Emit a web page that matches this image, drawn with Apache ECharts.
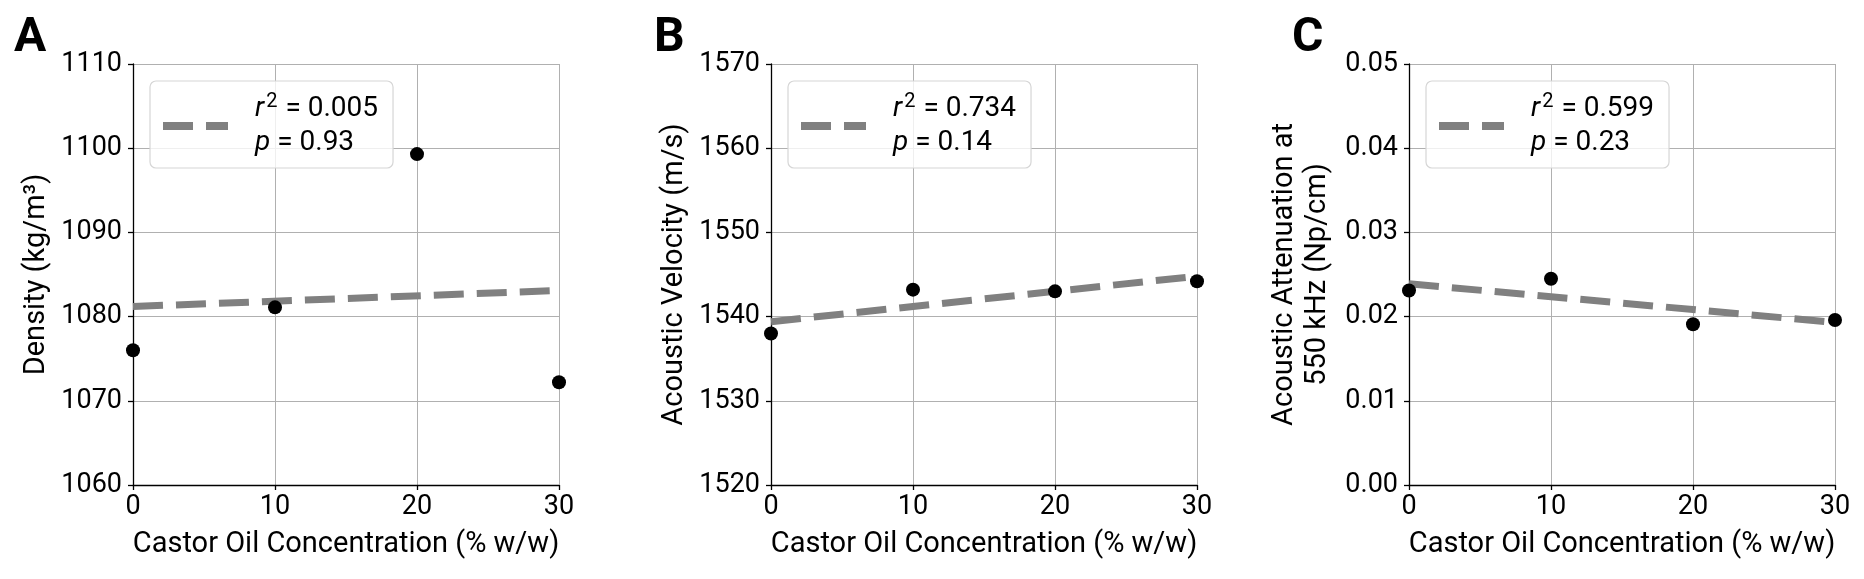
<!DOCTYPE html>
<html>
<head>
<meta charset="utf-8">
<script src="https://cdn.jsdelivr.net/npm/echarts@6/dist/echarts.min.js"></script>
<style>
html,body{margin:0;padding:0;background:#fff;}
#chart{width:1864px;height:579px;}
</style>
</head>
<body>
<div id="chart"></div>
<script>
// ---- data ----
const xVals = [0, 10, 20, 30];
const densityVals = [1076.0, 1081.1, 1099.3, 1072.2];
const velocityVals = [1538.0, 1543.2, 1543.0, 1544.2];
const attenVals = [0.0231, 0.0245, 0.0191, 0.0196];
const fitX = [0, 30];
const densityFit = [1081.2, 1083.1];
const velocityFit = [1539.4, 1544.8];
const attenFit = [0.0239, 0.0193];
const r2Labels = ['0.005', '0.734', '0.599'];
const pLabels = ['0.93', '0.14', '0.23'];
const panelLetters = ['A', 'B', 'C'];
const yNames = ['Density (kg/m³)', 'Acoustic Velocity (m/s)', 'Acoustic Attenuation at\n550 kHz (Np/cm)'];
const xName = 'Castor Oil Concentration (% w/w)';
const yMins = [1060, 1520, 0];
const yMaxs = [1110, 1570, 0.05];
const yIntervals = [10, 10, 0.01];
const yDecimals = [0, 0, 2];

const FONT = 'Roboto';
const gridLefts = [133, 771, 1409];
const gridTop = 64, gridW = 426, gridH = 421;
const yNameGaps = [80, 80, 75];

const values = [densityVals, velocityVals, attenVals];
const fits = [densityFit, velocityFit, attenFit];

const grids = [], xAxes = [], yAxes = [], series = [], legends = [], graphics = [];
for (let i = 0; i < 3; i++) {
  grids.push({left: gridLefts[i], top: gridTop, width: gridW, height: gridH, containLabel: false});
  xAxes.push({
    gridIndex: i, type: 'value', min: 0, max: 30, interval: 10,
    name: xName, nameLocation: 'middle', nameGap: 45,
    nameTextStyle: {fontFamily: FONT, fontSize: 29, color: '#000'},
    axisLine: {show: true, onZero: false, lineStyle: {color: '#000', width: 1.3}},
    axisTick: {show: true, length: 5, lineStyle: {color: '#000', width: 1.3}},
    axisLabel: {fontFamily: FONT, fontSize: 27, color: '#000', margin: 9},
    splitLine: {show: true, lineStyle: {color: '#b0b0b0', width: 1}}
  });
  const dec = yDecimals[i];
  yAxes.push({
    gridIndex: i, type: 'value', min: yMins[i], max: yMaxs[i], interval: yIntervals[i],
    name: yNames[i], nameLocation: 'middle', nameGap: yNameGaps[i], nameRotate: 90,
    nameTextStyle: {fontFamily: FONT, fontSize: 29, color: '#000', lineHeight: 33},
    axisLine: {show: true, onZero: false, lineStyle: {color: '#000', width: 1.3}},
    axisTick: {show: true, length: 5, lineStyle: {color: '#000', width: 1.3}},
    axisLabel: {fontFamily: FONT, fontSize: 27, color: '#000', margin: 11,
      formatter: v => v.toFixed(dec)},
    splitLine: {show: true, lineStyle: {color: '#b0b0b0', width: 1}}
  });
  const fitName = 'fit' + panelLetters[i];
  series.push({
    name: fitName, type: 'line', xAxisIndex: i, yAxisIndex: i,
    data: fitX.map((x, k) => [x, fits[i][k]]),
    showSymbol: false, symbol: 'none', z: 2, silent: true,
    lineStyle: {color: '#808080', width: 7, type: [30, 13], cap: 'butt'},
    itemStyle: {color: '#808080'}
  });
  series.push({
    name: 'data' + panelLetters[i], type: 'scatter', xAxisIndex: i, yAxisIndex: i,
    data: xVals.map((x, k) => [x, values[i][k]]),
    symbol: 'circle', symbolSize: 14, clip: false, z: 5,
    itemStyle: {color: '#000', opacity: 1}
  });
  const r2 = r2Labels[i], p = pLabels[i];
  legends.push({
    data: [fitName], left: gridLefts[i] + 17, top: 81,
    orient: 'vertical', selectedMode: false,
    padding: [11, 15, 8, 13],
    backgroundColor: 'rgba(255,255,255,0.8)', borderColor: '#d6d6d6', borderWidth: 1.2, borderRadius: 6,
    icon: 'path://M0,0H30V8H0Z M43,0H65V8H43Z', itemWidth: 65, itemHeight: 8,
    itemStyle: {color: '#808080', borderWidth: 0},
    lineStyle: {width: 0},
    formatter: () => '{it|r}{sup|2}{n| = ' + r2 + '}\n{it|p}{n| = ' + p + '}',
    textStyle: {
      fontFamily: FONT, fontSize: 28, color: '#000', lineHeight: 34,
      rich: {
        it: {fontFamily: FONT, fontSize: 28, fontStyle: 'italic', color: '#000', lineHeight: 34, padding: [0, 0, 0, 22]},
        sup: {fontFamily: FONT, fontSize: 20, color: '#000', verticalAlign: 'top', lineHeight: 20, padding: [0, 1, 0, 2]},
        n: {fontFamily: FONT, fontSize: 28, color: '#000', lineHeight: 34}
      }
    }
  });
  graphics.push({
    type: 'text', left: [14, 654, 1292][i], top: 15,
    style: {text: panelLetters[i], fontFamily: FONT, fontWeight: 'bold', fontSize: 48, fill: '#000'}
  });
}

const chart = echarts.init(document.getElementById('chart'), null, {renderer: 'canvas'});
chart.setOption({
  animation: false,
  backgroundColor: '#fff',
  grid: grids, xAxis: xAxes, yAxis: yAxes, series: series, legend: legends, graphic: graphics
});
</script>
</body>
</html>
